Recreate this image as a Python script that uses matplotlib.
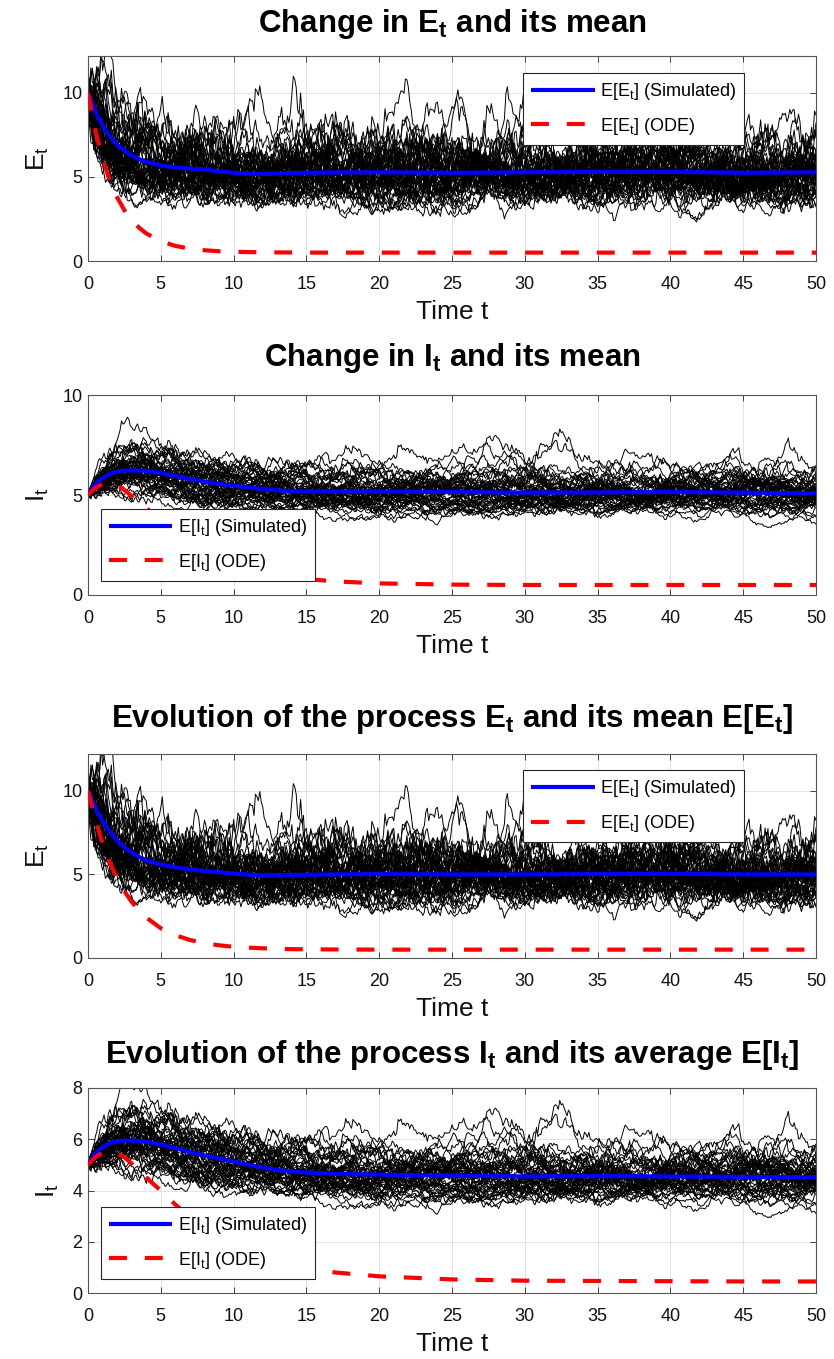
import numpy as np
import matplotlib
matplotlib.use('Agg')
import matplotlib.pyplot as plt
from matplotlib.lines import Line2D

plt.rcParams['font.family'] = ['Liberation Sans', 'DejaVu Sans']
plt.rcParams['mathtext.fontset'] = 'custom'
plt.rcParams['mathtext.rm'] = 'Liberation Sans'
plt.rcParams['mathtext.it'] = 'Liberation Sans:italic'
plt.rcParams['mathtext.bf'] = 'Liberation Sans:bold'

# ---------------- data ----------------
t_key = [0, 0.5, 1, 1.5, 2, 2.5, 3, 3.5, 4, 5, 6, 7, 8, 9, 10, 11, 12, 13, 14,
         15, 17, 20, 25, 30, 35, 40, 45, 50]

E1_sim = [10, 8.9, 8.05, 7.42, 6.93, 6.56, 6.28, 6.07, 5.91, 5.69, 5.57, 5.5,
          5.45, 5.33, 5.25, 5.2, 5.18, 5.2, 5.24, 5.25, 5.27, 5.28, 5.25, 5.28,
          5.3, 5.31, 5.25, 5.28]
E1_ode = [10, 7.79, 6.09, 4.79, 3.79, 3.02, 2.44, 1.99, 1.64, 1.17, 0.90, 0.73,
          0.64, 0.58, 0.55, 0.53, 0.52, 0.51, 0.51, 0.5, 0.5, 0.5, 0.5, 0.5,
          0.5, 0.5, 0.5, 0.5]

I1_sim = [5.0, 5.55, 5.85, 6.05, 6.17, 6.22, 6.23, 6.22, 6.2, 6.1, 5.95, 5.8,
          5.67, 5.55, 5.47, 5.38, 5.3, 5.23, 5.2, 5.18, 5.17, 5.17, 5.15, 5.12,
          5.13, 5.15, 5.12, 5.08]
I1_ode = [5.0, 5.35, 5.55, 5.6, 5.5, 5.25, 4.95, 4.65, 4.35, 3.75, 3.2, 2.7,
          2.25, 1.9, 1.6, 1.35, 1.15, 1.0, 0.88, 0.8, 0.68, 0.58, 0.52, 0.5,
          0.5, 0.5, 0.5, 0.5]

E2_sim = [10, 9.0, 8.19, 7.55, 7.03, 6.62, 6.3, 6.05, 5.83, 5.6, 5.42, 5.3,
          5.2, 5.12, 5.05, 4.98, 4.94, 4.95, 4.97, 4.98, 5.0, 5.02, 5.0, 5.0,
          5.02, 5.03, 5.0, 5.0]
E2_ode = [10, 8.28, 6.87, 5.71, 4.77, 3.99, 3.36, 2.84, 2.42, 1.78, 1.36, 1.08,
          0.89, 0.76, 0.67, 0.62, 0.58, 0.55, 0.53, 0.52, 0.51, 0.5, 0.5, 0.5,
          0.5, 0.5, 0.5, 0.5]

I2_sim = [5.0, 5.45, 5.7, 5.85, 5.92, 5.95, 5.95, 5.93, 5.9, 5.8, 5.65, 5.5,
          5.37, 5.25, 5.13, 5.0, 4.9, 4.8, 4.74, 4.7, 4.65, 4.62, 4.58, 4.55,
          4.56, 4.55, 4.53, 4.52]
I2_ode = [5.0, 5.3, 5.48, 5.52, 5.45, 5.3, 5.05, 4.78, 4.5, 4.0, 3.45, 2.95,
          2.5, 2.1, 1.8, 1.55, 1.35, 1.2, 1.05, 0.95, 0.8, 0.65, 0.53, 0.48,
          0.47, 0.46, 0.45, 0.45]

titles = [r'Change in E$_\mathbf{t}$ and its mean',
          r'Change in I$_\mathbf{t}$ and its mean',
          r'Evolution of the process E$_\mathbf{t}$ and its mean E[E$_\mathbf{t}$]',
          r'Evolution of the process I$_\mathbf{t}$ and its average E[I$_\mathbf{t}$]']
ylabels = [r'E$_\mathrm{t}$', r'I$_\mathrm{t}$', r'E$_\mathrm{t}$', r'I$_\mathrm{t}$']
leg_sim = [r'E[E$_\mathrm{t}$] (Simulated)', r'E[I$_\mathrm{t}$] (Simulated)',
           r'E[E$_\mathrm{t}$] (Simulated)', r'E[I$_\mathrm{t}$] (Simulated)']
leg_ode = [r'E[E$_\mathrm{t}$] (ODE)', r'E[I$_\mathrm{t}$] (ODE)',
           r'E[E$_\mathrm{t}$] (ODE)', r'E[I$_\mathrm{t}$] (ODE)']
x_ticks = [0, 5, 10, 15, 20, 25, 30, 35, 40, 45, 50]
y_ticks = [[0, 5, 10], [0, 5, 10], [0, 5, 10], [0, 2, 4, 6, 8]]
y_lims = [(0, 12.2), (0, 10), (0, 12.2), (0, 8)]

# relative spread of the simulated sample paths (read as band width) and memory
path_rel_sigma = [0.21, 0.13, 0.21, 0.135]
path_theta = [0.5, 0.15, 0.5, 0.15]
path_seed = [7, 11, 7, 11]
n_paths = 50
t_fine = np.linspace(0, 50, 501)

sims = [E1_sim, I1_sim, E2_sim, I2_sim]
odes = [E1_ode, I1_ode, E2_ode, I2_ode]

# ---------------- layout ----------------
W, H = 834, 1359
fig = plt.figure(figsize=(W / 100, H / 100), dpi=100)
ax_px = [(56, 261), (395, 595), (754, 958), (1088, 1293)]
left_px, right_px = 88, 816
title_pad = [17.5, 21, 19.5, 18]
leg_boxes = [(0.598, 0.917), (0.018, 0.43), (0.598, 0.92), (0.018, 0.42)]


def ou(seed, theta):
    rng = np.random.default_rng(seed)
    dt = t_fine[1] - t_fine[0]
    a = np.exp(-theta * dt)
    b = np.sqrt(1 - a * a)
    eps = rng.standard_normal((n_paths, len(t_fine) - 1))
    z = np.zeros((n_paths, len(t_fine)))
    for k in range(1, len(t_fine)):
        z[:, k] = a * z[:, k - 1] + b * eps[:, k - 1]
    return z


for i in range(4):
    top, bot = ax_px[i]
    ax = fig.add_axes([left_px / W, 1 - bot / H, (right_px - left_px) / W,
                       (bot - top) / H])
    base = np.interp(t_fine, t_key, sims[i])
    z = ou(path_seed[i], path_theta[i])
    s = path_rel_sigma[i]
    for p in range(n_paths):
        ax.plot(t_fine, base * np.exp(s * z[p] - 0.5 * s * s), color='black',
                lw=0.7, zorder=2)
    ax.plot(t_key, sims[i], color='#0000ff', lw=3.0, zorder=3,
            solid_capstyle='butt')
    red, = ax.plot(t_key, odes[i], color='#ff0000', lw=3.0, zorder=4,
                   dash_capstyle='butt')
    red.set_dashes([4.3, 4.3])

    ax.set_xlim(0, 50)
    ax.set_ylim(*y_lims[i])
    ax.set_xticks(x_ticks)
    ax.set_yticks(y_ticks[i])
    ax.grid(True, color='#dedede', lw=0.6, zorder=0)
    ax.set_axisbelow(True)
    ax.tick_params(direction='in', top=True, right=True, length=4, width=0.6,
                   labelsize=13, colors='#262626', labelcolor='#111111')
    ax.tick_params(axis='x', pad=11)
    ax.tick_params(axis='y', pad=4)
    for sp in ax.spines.values():
        sp.set_color('#555555')
        sp.set_linewidth(0.8)
    ax.set_xlabel('Time t', fontsize=19, labelpad=5, color='#111111')
    ax.set_ylabel(ylabels[i], fontsize=19, labelpad=8, color='#111111')
    ax.set_title(titles[i], fontsize=22.5, fontweight='bold', pad=title_pad[i])

    h1 = Line2D([], [], color='#0000ff', lw=3.0, solid_capstyle='butt')
    h2 = Line2D([], [], color='#ff0000', lw=3.0, dash_capstyle='butt')
    h2.set_dashes([4.3, 4.3])
    leg = ax.legend([h1, h2], [leg_sim[i], leg_ode[i]], loc='upper left',
                    bbox_to_anchor=leg_boxes[i], borderaxespad=0,
                    fontsize=13, handlelength=3.5, handletextpad=0.3,
                    labelspacing=0.75, borderpad=0.45, fancybox=False,
                    framealpha=1, edgecolor='#262626')
    leg.get_frame().set_linewidth(0.8)
    leg.set_zorder(10)

fig.savefig('out.png', dpi=100)
